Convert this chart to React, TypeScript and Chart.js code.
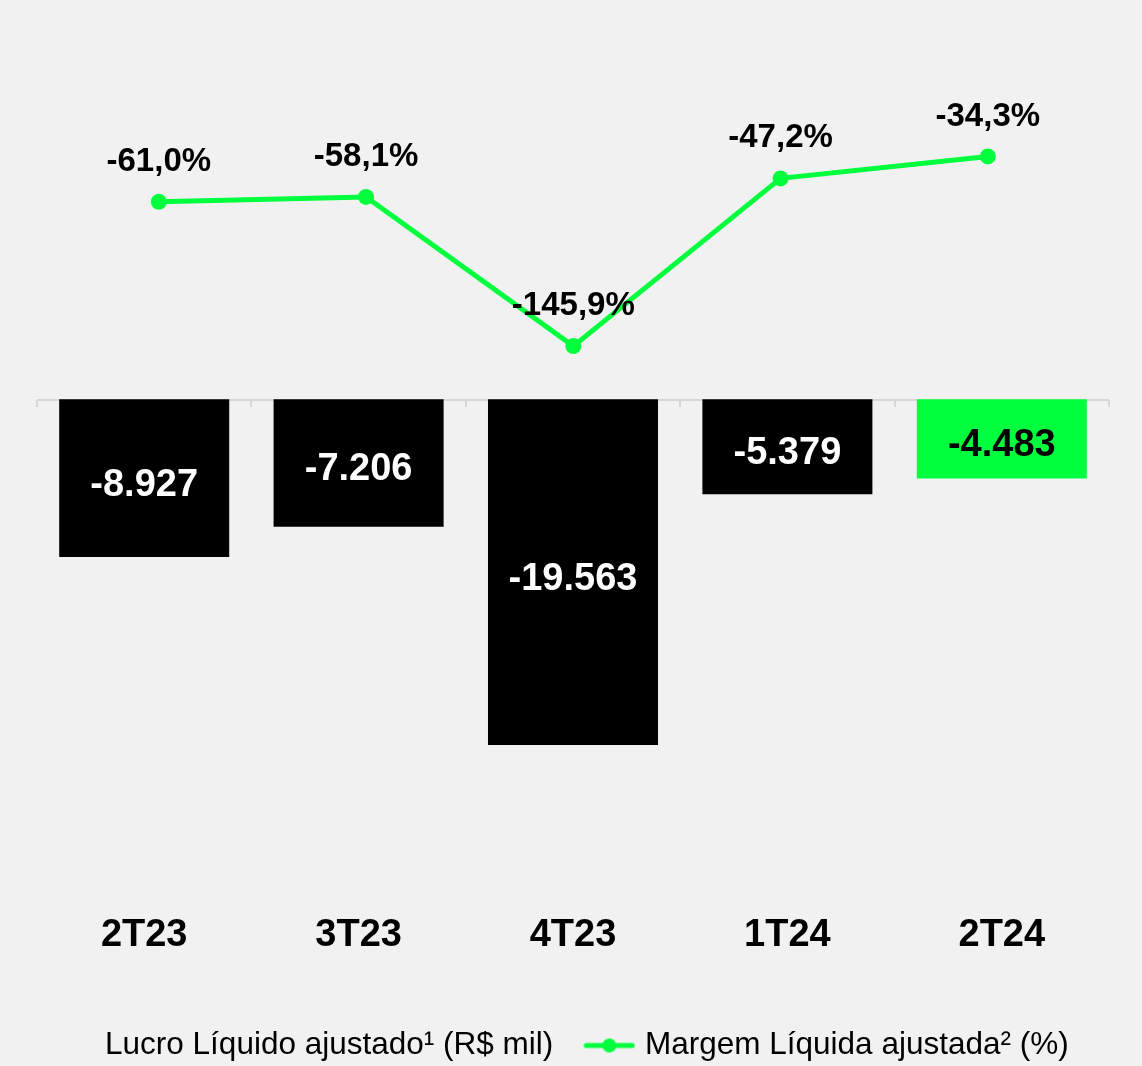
import React, { useEffect, useRef } from 'react';
import { Chart, registerables } from 'chart.js';

Chart.register(...registerables);

// ---- data ----
const categories = ['2T23', '3T23', '4T23', '1T24', '2T24'];
const lucroLiquido = [-8927, -7206, -19563, -5379, -4483];
const lucroLabels = ['-8.927', '-7.206', '-19.563', '-5.379', '-4.483'];
const margemLiquida = [-61.0, -58.1, -145.9, -47.2, -34.3];
const margemLabels = ['-61,0%', '-58,1%', '-145,9%', '-47,2%', '-34,3%'];
const legendTexts = ['Lucro Líquido ajustado¹ (R$ mil)', 'Margem Líquida ajustada² (%)'];

// ---- styles ----
const GREEN = '#00ff3c';
const BG = '#f1f1f1';
const FONT = "'Liberation Sans', Arial, Helvetica, sans-serif";
const barColors = ['#000000', '#000000', '#000000', '#000000', GREEN];
const barLabelColors = ['#ffffff', '#ffffff', '#ffffff', '#ffffff', '#000000'];

const zeroLinePlugin = {
  id: 'zeroLine',
  beforeDatasetsDraw(chart: any) {
    const { ctx, chartArea, scales } = chart;
    const xs = scales.x;
    const y = Math.round(scales.y.getPixelForValue(0)) + 1;
    const step = xs.getPixelForValue(1) - xs.getPixelForValue(0);
    const start = xs.getPixelForValue(0) - step / 2;
    ctx.save();
    ctx.strokeStyle = '#d6d6d6';
    ctx.lineWidth = 2;
    ctx.beginPath();
    ctx.moveTo(chartArea.left, y);
    ctx.lineTo(chartArea.right, y);
    for (let i = 0; i <= categories.length; i++) {
      const px = Math.round(start + i * step);
      ctx.moveTo(px, y);
      ctx.lineTo(px, y + 7);
    }
    ctx.stroke();
    ctx.restore();
  },
};

const valueLabelsPlugin = {
  id: 'valueLabels',
  afterDatasetsDraw(chart: any) {
    const { ctx } = chart;
    ctx.save();
    ctx.textAlign = 'center';
    ctx.textBaseline = 'middle';
    const barMeta = chart.getDatasetMeta(0);
    ctx.font = `bold 38px ${FONT}`;
    barMeta.data.forEach((bar: any, i: number) => {
      const p = bar.getProps(['x', 'y', 'base'], true);
      ctx.fillStyle = barLabelColors[i];
      ctx.fillText(lucroLabels[i], p.x, (p.y + p.base) / 2 + 7);
    });
    const lineMeta = chart.getDatasetMeta(1);
    ctx.font = `bold 33px ${FONT}`;
    ctx.fillStyle = '#000000';
    lineMeta.data.forEach((pt: any, i: number) => {
      ctx.fillText(margemLabels[i], pt.x, pt.y - 40);
    });
    ctx.restore();
  },
};

const hiddenSideAxis = (position: string, width: number) => ({
  type: 'linear',
  position,
  display: true,
  ticks: { display: false },
  grid: { display: false, drawTicks: false },
  border: { display: false },
  afterFit: (s: any) => {
    s.width = width;
  },
});

export default function App() {
  const canvasRef = useRef<HTMLCanvasElement | null>(null);

  useEffect(() => {
    document.documentElement.style.overflow = 'hidden';
    document.body.style.background = BG;
    const canvas = canvasRef.current;
    if (!canvas) return;

    const blank = document.createElement('canvas');
    blank.width = 1;
    blank.height = 1;

    const marker = document.createElement('canvas');
    marker.width = 52;
    marker.height = 20;
    const mctx = marker.getContext('2d')!;
    mctx.strokeStyle = GREEN;
    mctx.fillStyle = GREEN;
    mctx.lineWidth = 5;
    mctx.lineCap = 'round';
    mctx.beginPath();
    mctx.moveTo(3, 10);
    mctx.lineTo(49, 10);
    mctx.stroke();
    mctx.beginPath();
    mctx.arc(26, 10, 7, 0, Math.PI * 2);
    mctx.fill();

    const chart = new Chart(canvas, {
      type: 'bar',
      data: {
        labels: categories,
        datasets: [
          {
            type: 'bar',
            label: legendTexts[0],
            data: lucroLiquido,
            backgroundColor: barColors,
            xAxisID: 'x',
            yAxisID: 'y',
            grouped: false,
            barPercentage: 0.793,
            categoryPercentage: 1,
            order: 2,
          } as any,
          {
            type: 'line',
            label: legendTexts[1],
            data: margemLiquida.map((v, i) => ({ x: i, y: v })),
            xAxisID: 'x2',
            yAxisID: 'y2',
            borderColor: GREEN,
            backgroundColor: GREEN,
            borderWidth: 5,
            pointRadius: 8,
            pointBackgroundColor: GREEN,
            pointBorderWidth: 0,
            tension: 0,
            order: 1,
          } as any,
        ],
      },
      options: {
        animation: false,
        responsive: true,
        maintainAspectRatio: false,
        events: [],
        layout: { padding: { top: 22, left: 0, right: 24, bottom: 2.75 } },
        scales: {
          x: {
            type: 'category',
            position: 'bottom',
            offset: true,
            grid: { display: false, drawTicks: false },
            border: { display: false },
            ticks: {
              color: '#000000',
              font: { family: FONT, size: 38, weight: 'bold' },
              padding: 10,
              maxRotation: 0,
              autoSkip: false,
            },
            afterFit: (s: any) => {
              s.height += 25;
            },
          },
          x2: {
            type: 'linear',
            display: false,
            offset: false,
            grid: { offset: false },
            min: -0.5877,
            max: 4.5848,
          },
          y: { ...hiddenSideAxis('left', 29), min: -28510, max: 20897 },
          y2: { ...hiddenSideAxis('right', 1), min: -473.72, max: 40.12 },
        } as any,
        plugins: {
          tooltip: { enabled: false },
          legend: {
            position: 'bottom',
            labels: {
              usePointStyle: true,
              pointStyleWidth: 40,
              padding: 36,
              color: '#000000',
              font: { family: FONT, size: 31.5 },
              generateLabels: () => [
                {
                  text: legendTexts[0],
                  pointStyle: blank,
                  fillStyle: 'rgba(0,0,0,0)',
                  strokeStyle: 'rgba(0,0,0,0)',
                  lineWidth: 0,
                  hidden: false,
                  datasetIndex: 0,
                },
                {
                  text: legendTexts[1],
                  pointStyle: marker,
                  fillStyle: GREEN,
                  strokeStyle: GREEN,
                  lineWidth: 0,
                  hidden: false,
                  datasetIndex: 1,
                },
              ],
            },
          } as any,
        },
      },
      plugins: [zeroLinePlugin, valueLabelsPlugin],
    });

    return () => {
      chart.destroy();
    };
  }, []);

  return (
    <div style={{ width: 1126, height: 1066, background: BG, position: 'relative' }}>
      <canvas ref={canvasRef} />
    </div>
  );
}
